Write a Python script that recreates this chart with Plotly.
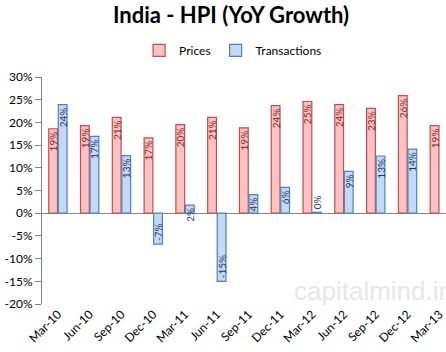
import plotly.graph_objects as go

categories = ["Mar-10", "Jun-10", "Sep-10", "Dec-10", "Mar-11", "Jun-11", "Sep-11",
              "Dec-11", "Mar-12", "Jun-12", "Sep-12", "Dec-12", "Mar-13"]
prices = [18.6, 19.3, 21.1, 16.6, 19.5, 21.1, 18.8, 23.7, 24.6, 23.9, 23.1, 25.9, 19.3]
transactions = [23.9, 16.9, 12.7, -6.8, 1.8, -15.0, 4.1, 5.7, 0.2, 9.2, 12.6, 14.1, None]
tick_vals = [-20, -15, -10, -5, 0, 5, 10, 15, 20, 25, 30]
tick_text = [f"{v}%" for v in tick_vals]

FONT = "Lato, 'Open Sans', sans-serif"

def labels(vals):
    return [None if v is None else f"{round(v):.0f}%" for v in vals]

def positions(vals):
    return ["outside" if (v is not None and abs(v) < 1) else "inside" for v in vals]

fig = go.Figure()
fig.add_trace(go.Bar(
    x=categories, y=prices, name="Prices",
    marker=dict(color="#FFC2C2", line=dict(color="#C0504D", width=1.2)),
    text=labels(prices), textposition=positions(prices), insidetextanchor="end",
    textangle=-90, constraintext="none", cliponaxis=False,
    textfont=dict(family=FONT, size=10, color="#8B2323"),
))
fig.add_trace(go.Bar(
    x=categories, y=transactions, name="Transactions",
    marker=dict(color="#C5D9F7", line=dict(color="#4F81BD", width=1.2)),
    text=labels(transactions), textposition=positions(transactions), insidetextanchor="end",
    textangle=-90, constraintext="none", cliponaxis=False,
    textfont=dict(family=FONT, size=10, color="#1F3864"),
))

fig.add_annotation(
    text="capitalmind.in", xref="paper", yref="paper", x=0.62, y=0.056,
    xanchor="left", yanchor="middle", showarrow=False,
    font=dict(family="Liberation Sans, Arial, sans-serif", size=26, color="#E8E8E8"),
)

fig.update_layout(
    width=446, height=352,
    margin=dict(l=42, r=0, t=77, b=48),
    paper_bgcolor="white", plot_bgcolor="white",
    barmode="group", bargap=0.4, bargroupgap=0.08,
    title=dict(text="<b>India - HPI (YoY Growth)</b>", x=0.518, xanchor="center",
               y=0.957, yanchor="middle",
               font=dict(family=FONT, size=22, color="black")),
    legend=dict(orientation="h", x=0.473, xanchor="center", y=1.117, yanchor="middle",
                font=dict(family=FONT, size=12, color="black"),
                itemwidth=30, traceorder="normal", bgcolor="rgba(0,0,0,0)"),
    font=dict(family=FONT, size=11, color="black"),
    showlegend=True,
)
fig.update_xaxes(
    type="category", range=[-0.5, 12.21], showgrid=False, showline=False,
    ticks="", tickangle=-45, tickfont=dict(family=FONT, size=12, color="black"),
)
fig.update_yaxes(
    range=[-20, 30], tickvals=tick_vals, ticktext=tick_text, showgrid=False,
    showline=True, linecolor="#868686", linewidth=1,
    ticks="outside", ticklen=6, tickcolor="#868686",
    zeroline=True, zerolinecolor="#868686", zerolinewidth=1,
    tickfont=dict(family=FONT, size=12, color="black"),
)

fig.write_html("out.html")
